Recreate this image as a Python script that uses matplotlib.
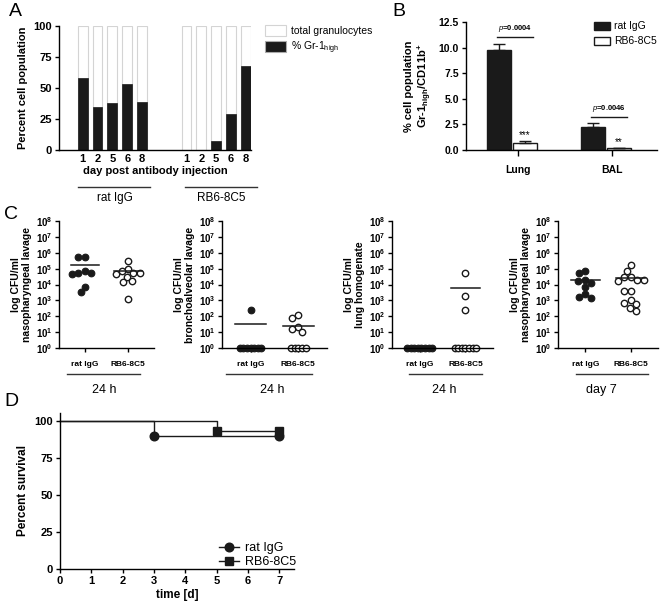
import matplotlib
matplotlib.use('Agg')
import matplotlib.pyplot as plt
import numpy as np
from matplotlib.patches import Patch
from matplotlib.lines import Line2D
from matplotlib.ticker import FixedLocator, FuncFormatter, NullLocator

plt.rcParams['font.family'] = 'Liberation Sans'
plt.rcParams['mathtext.fontset'] = 'custom'
plt.rcParams['mathtext.rm'] = 'Liberation Sans'
plt.rcParams['mathtext.it'] = 'Liberation Sans:italic'
plt.rcParams['mathtext.bf'] = 'Liberation Sans:bold'
plt.rcParams['axes.linewidth'] = 1.0

# ---- data ----
# A: granulocytes per day post antibody injection
a_days = ['1', '2', '5', '6', '8']
a_total_ratigg = [100, 100, 100, 100, 100]
a_total_rb6 = [100, 100, 100, 100, 100]
a_gr1_ratigg = [58, 35, 38, 53, 39]
a_gr1_rb6 = [0, 0, 7.5, 29, 68]
a_groups = ['rat IgG', 'RB6-8C5']

# B: Gr-1 high / CD11b+ cells
b_sites = ['Lung', 'BAL']
b_ratigg = [9.78, 2.28]
b_ratigg_err = [0.58, 0.32]
b_rb6 = [0.71, 0.16]
b_rb6_err = [0.16, 0.06]
b_pvals = ['0.0004', '0.0046']
b_stars = ['***', '**']

# C: log10 CFU/ml (0 = below detection)
c_groups = ['rat IgG', 'RB6-8C5']
c_np24_ratigg = [5.72, 5.72, 4.85, 4.75, 4.7, 4.65, 3.86, 3.5]
c_np24_rb6 = [5.48, 5.0, 4.85, 4.72, 4.7, 4.65, 4.5, 4.2, 4.15, 3.1]
c_bal24_ratigg = [2.39, 0, 0, 0, 0, 0, 0, 0]
c_bal24_rb6 = [2.08, 1.87, 1.34, 1.2, 0.99, 0, 0, 0, 0, 0]
c_lung24_ratigg = [0, 0, 0, 0, 0, 0, 0, 0]
c_lung24_rb6 = [4.74, 3.3, 2.39, 0, 0, 0, 0, 0, 0, 0]
c_np7_ratigg = [4.87, 4.7, 4.28, 4.22, 4.1, 3.82, 3.4, 3.2, 3.15]
c_np7_rb6 = [5.2, 4.85, 4.5, 4.45, 4.3, 4.3, 4.25, 3.6, 3.6, 3.0, 2.85, 2.75, 2.55, 2.3]
c_ylabels = ['log CFU/ml\nnasopharyngeal lavage', 'log CFU/ml\nbronchoalveolar lavage',
             'log CFU/ml\nlung homogenate', 'log CFU/ml\nnasopharyngeal lavage']
c_times = ['24 h', '24 h', '24 h', 'day 7']

# D: survival
d_time_ratigg = [0, 3, 7]
d_surv_ratigg = [100, 90, 90]
d_time_rb6 = [0, 5, 7]
d_surv_rb6 = [100, 93.3, 93.3]

# ---- layout helpers (pixel coordinates, origin top-left) ----
W, H = 661, 607
fig = plt.figure(figsize=(W / 100, H / 100), dpi=100)


def px_axes(x0, y0, x1, y1):
    return fig.add_axes([x0 / W, 1 - y1 / H, (x1 - x0) / W, (y1 - y0) / H])


def fig_line(x0, x1, y, color='#333333', lw=1.0):
    fig.add_artist(Line2D([x0 / W, x1 / W], [1 - y / H, 1 - y / H], color=color, lw=lw))


def fig_text(x, y, s, **kw):
    fig.text(x / W, 1 - y / H, s, ha=kw.pop('ha', 'center'), va=kw.pop('va', 'center'), **kw)


def clean(ax):
    ax.spines['top'].set_visible(False)
    ax.spines['right'].set_visible(False)


def swarm(vals, xscale, yscale, d=6.6, zero_gap=3.6):
    # simple beeswarm; offsets in data units
    vals = np.asarray(vals, dtype=float)
    offs = np.zeros(len(vals))
    zeros = np.where(vals == 0)[0]
    for k, i in enumerate(zeros):
        offs[i] = (k - (len(zeros) - 1) / 2) * zero_gap / xscale
    placed = []
    cands = [0.0]
    for s in np.arange(0.5, 40, 0.5):
        cands += [-s, s]
    for i in np.argsort(-vals):
        if vals[i] == 0:
            continue
        yp = vals[i] * yscale
        for c in cands:
            if all((c - px) ** 2 + (yp - py) ** 2 >= d ** 2 for px, py in placed):
                placed.append((c, yp))
                offs[i] = c / xscale
                break
    return offs


# ---- panel letters ----
for letter, (x, y) in zip('ABCD', [(15, 12), (399, 12), (11, 215), (11, 402)]):
    fig_text(x, y, letter, fontsize=14)

# ---- A ----
axA = px_axes(59, 26, 251, 150)
posL = np.arange(5)
posR = np.arange(5) + 7
axA.bar(posL, a_total_ratigg, width=0.66, color='white', edgecolor='#d4d4d4', lw=0.8)
axA.bar(posR, a_total_rb6, width=0.66, color='white', edgecolor='#d4d4d4', lw=0.8)
axA.bar(posL, a_gr1_ratigg, width=0.66, color='#1a1a1a', edgecolor='#1a1a1a', lw=0.5)
axA.bar(posR, a_gr1_rb6, width=0.66, color='#1a1a1a', edgecolor='#1a1a1a', lw=0.5)
axA.set_xlim(-1.6, 11.35)
axA.set_ylim(0, 100)
axA.set_yticks([0, 25, 50, 75, 100])
axA.set_xticks(list(posL) + list(posR), a_days + a_days)
axA.tick_params(axis='x', length=0, pad=3)
axA.tick_params(axis='y', length=3, width=1, pad=2)
for lab in axA.get_xticklabels() + axA.get_yticklabels():
    lab.set_fontweight('bold')
    lab.set_fontsize(8)
axA.set_ylabel('Percent cell population', fontsize=8, fontweight='bold', labelpad=4)
axA.set_xlabel('day post antibody injection', fontsize=8, fontweight='bold', labelpad=1)
clean(axA)
axA.legend(handles=[Patch(facecolor='white', edgecolor='#d4d4d4', lw=0.8, label='total granulocytes'),
                    Patch(facecolor='#1a1a1a', edgecolor='#aaaaaa', lw=0.8, label='% Gr-1$_{\\mathrm{high}}$')],
           loc='upper left', bbox_to_anchor=(261 / W, 1 - 21 / H), bbox_transform=fig.transFigure,
           frameon=False, fontsize=7.5, handlelength=2.0, handleheight=1.2, handletextpad=0.5,
           labelspacing=0.3, borderaxespad=0)
fig_line(78, 150, 187)
fig_line(185, 257, 187)
fig_text(115, 198, a_groups[0], fontsize=8.5)
fig_text(221, 198, a_groups[1], fontsize=8.5)

# ---- B ----
axB = px_axes(466, 22, 657, 150)
xb = np.arange(len(b_sites))
offL, offR, bw = -0.2, 0.074, 0.254
axB.bar(xb + offL, b_ratigg, width=bw, color='#1a1a1a', edgecolor='#1a1a1a', lw=1)
axB.bar(xb + offR, b_rb6, width=bw, color='white', edgecolor='#1a1a1a', lw=1)
axB.errorbar(xb + offL, b_ratigg, yerr=[[0] * 2, b_ratigg_err], fmt='none', ecolor='#1a1a1a',
             elinewidth=1, capsize=4.6, capthick=1)
axB.errorbar(xb + offR, b_rb6, yerr=[[0] * 2, b_rb6_err], fmt='none', ecolor='#1a1a1a',
             elinewidth=1, capsize=4.6, capthick=1)
axB.set_xlim(-0.553, 1.479)
axB.set_ylim(0, 12.5)
axB.set_yticks([0, 2.5, 5.0, 7.5, 10.0, 12.5], ['0.0', '2.5', '5.0', '7.5', '10.0', '12.5'])
axB.set_xticks(xb, b_sites)
axB.tick_params(axis='x', length=4, width=1, pad=7)
axB.tick_params(axis='y', length=3, width=1, pad=2)
for lab in axB.get_xticklabels() + axB.get_yticklabels():
    lab.set_fontweight('bold')
    lab.set_fontsize(7.5)
axB.set_ylabel('% cell population\nGr-1$_{\\mathbf{high}}$/CD11b$^{\\mathbf{+}}$', fontsize=8,
               fontweight='bold', labelpad=4, linespacing=1.1)
clean(axB)
sig_y = [11.0, 3.2]
for i in range(2):
    x0 = xb[i] - 0.22
    x1 = xb[i] + 0.16
    axB.plot([x0, x1], [sig_y[i], sig_y[i]], color='#1a1a1a', lw=1)
    axB.text((x0 + x1) / 2, sig_y[i] + 0.35, '$\\mathit{p}$=' + b_pvals[i], fontsize=5.5,
             ha='center', va='bottom', fontweight='bold')
    axB.text(xb[i] + offR, b_rb6[i] + b_rb6_err[i] + 0.1, b_stars[i], fontsize=7,
             ha='center', va='bottom')
axB.legend(handles=[Patch(facecolor='#1a1a1a', edgecolor='#1a1a1a', label='rat IgG'),
                    Patch(facecolor='white', edgecolor='#1a1a1a', label='RB6-8C5')],
           loc='upper left', bbox_to_anchor=(590 / W, 1 - 17 / H), bbox_transform=fig.transFigure,
           frameon=False, fontsize=7.5, handlelength=1.5, handleheight=0.8, handletextpad=0.4,
           labelspacing=0.5, borderaxespad=0)

# ---- C ----
c_data = [(c_np24_ratigg, c_np24_rb6), (c_bal24_ratigg, c_bal24_rb6),
          (c_lung24_ratigg, c_lung24_rb6), (c_np7_ratigg, c_np7_rb6)]
c_boxes = [(59, 154), (222, 327), (392, 493), (558, 658)]
c_lines = [(67, 140, 104), (226, 312, 272), (409, 482, 444), (576, 648, 601)]
for k in range(4):
    x0, x1 = c_boxes[k]
    ax = px_axes(x0, 221, x1, 348)
    xscale = (x1 - x0) / 2.2
    yscale = 127 / 8
    for g in range(2):
        vals = np.array(c_data[k][g], dtype=float)
        xs = g + swarm(vals, xscale, yscale)
        if g == 0:
            ax.plot(xs, 10 ** vals, 'o', ms=4.8, mfc='#1a1a1a', mec='#1a1a1a', mew=0.8, clip_on=False)
        else:
            ax.plot(xs, 10 ** vals, 'o', ms=4.6, mfc='white', mec='#1a1a1a', mew=1.0, clip_on=False)
        mean = np.mean(10 ** vals)
        ax.plot([g - 0.32, g + 0.32], [mean, mean], color='#1a1a1a', lw=1.1)
    ax.set_yscale('log')
    ax.set_ylim(1, 1e8)
    ax.set_xlim(-0.6, 1.6)
    ax.yaxis.set_major_locator(FixedLocator([10.0 ** e for e in range(9)]))
    ax.yaxis.set_minor_locator(NullLocator())
    ax.yaxis.set_major_formatter(FuncFormatter(lambda v, p: '$\\mathbf{10^{%d}}$' % round(np.log10(v))))
    ax.set_xticks([0, 1], c_groups)
    ax.tick_params(axis='x', length=3, width=1, pad=6)
    ax.tick_params(axis='y', length=3, width=1, pad=1.5)
    for lab in ax.get_xticklabels():
        lab.set_fontweight('bold')
        lab.set_fontsize(6)
    for lab in ax.get_yticklabels():
        lab.set_fontsize(7)
    ax.set_ylabel(c_ylabels[k], fontsize=7.5, fontweight='bold', labelpad=3, linespacing=1.05)
    clean(ax)
    lx0, lx1, tx = c_lines[k]
    fig_line(lx0, lx1, 374)
    fig_text(tx, 390, c_times[k], fontsize=9)

# ---- D ----
axD = px_axes(60, 413, 294, 569)
axD.plot(d_time_ratigg, d_surv_ratigg, drawstyle='steps-post', color='#1a1a1a', lw=1,
         marker='o', ms=6.2, markevery=[1, 2], clip_on=False)
axD.plot(d_time_rb6, d_surv_rb6, drawstyle='steps-post', color='#1a1a1a', lw=1,
         marker='s', ms=6.0, markevery=[1, 2], clip_on=False)
axD.set_xlim(0, 7.47)
axD.set_ylim(0, 105.4)
axD.set_xticks(range(8))
axD.set_yticks([0, 25, 50, 75, 100])
axD.tick_params(length=3, width=1, pad=2)
for lab in axD.get_xticklabels() + axD.get_yticklabels():
    lab.set_fontweight('bold')
    lab.set_fontsize(8)
axD.set_ylabel('Percent survival', fontsize=8.5, fontweight='bold', labelpad=4)
axD.set_xlabel('time [d]', fontsize=8.5, fontweight='bold', labelpad=2)
clean(axD)
axD.legend(handles=[Line2D([], [], color='#1a1a1a', lw=1, marker='o', ms=6.2, label='rat IgG'),
                    Line2D([], [], color='#1a1a1a', lw=1, marker='s', ms=6.0, label='RB6-8C5')],
           loc='upper left', bbox_to_anchor=(214 / W, 1 - 537 / H), bbox_transform=fig.transFigure,
           frameon=False, fontsize=9, handlelength=1.6, handletextpad=0.5, labelspacing=0.15,
           borderaxespad=0)

fig.savefig('out.png', dpi=100)
